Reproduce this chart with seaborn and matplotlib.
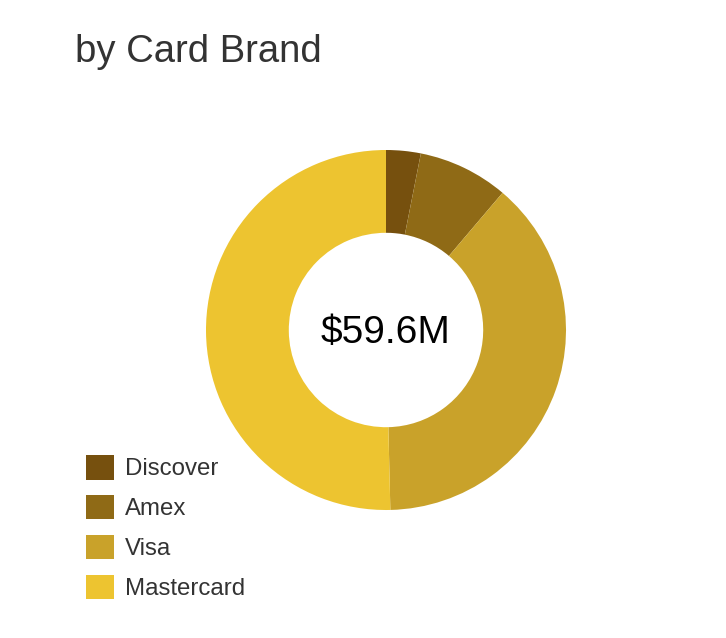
import matplotlib
matplotlib.use("Agg")
import matplotlib.pyplot as plt
import seaborn as sns
from matplotlib.patches import Patch

# volume by card brand, $M
brands = ['Discover', 'Amex', 'Visa', 'Mastercard']
volume = [1.85, 4.83, 22.89, 30.03]
colors = ['#76500e', '#8f6a16', '#c9a22a', '#edc430']
center_label = '$59.6M'
title = 'by Card Brand'

sns.set_theme(style='white')
plt.rcParams['font.family'] = ['Liberation Sans', 'DejaVu Sans']

fig = plt.figure(figsize=(7.26, 6.38), dpi=100)
fig.patch.set_facecolor('white')

# donut centred at (386, 330) px, radius 180 px
W, H = 726, 638
cx, cy, r = 386, 330, 180
ax = fig.add_axes([(cx - r) / W, (H - cy - r) / H, 2 * r / W, 2 * r / H])
ax.pie(volume, colors=colors, startangle=90, counterclock=False,
       radius=1, wedgeprops=dict(width=0.46, linewidth=0))
ax.set_xlim(-1, 1)
ax.set_ylim(-1, 1)
ax.set_aspect('equal')
ax.axis('off')
ax.text(0, -0.015, center_label, ha='center', va='center', fontsize=28, color='black')

fig.text(75 / W, 1 - 62 / H, title, fontsize=27.5, color='#333333',
         ha='left', va='baseline')

handles = [Patch(facecolor=c, edgecolor='none') for c in colors]
fig.legend(handles, brands, loc='upper left',
           bbox_to_anchor=(86 / W, 1 - 455 / H),
           frameon=False, fontsize=17.3, handlelength=1.16, handleheight=1.2,
           handletextpad=0.46, labelspacing=0.6, borderpad=0, borderaxespad=0,
           labelcolor='#333333')

fig.savefig('out.png', dpi=100, facecolor='white')
